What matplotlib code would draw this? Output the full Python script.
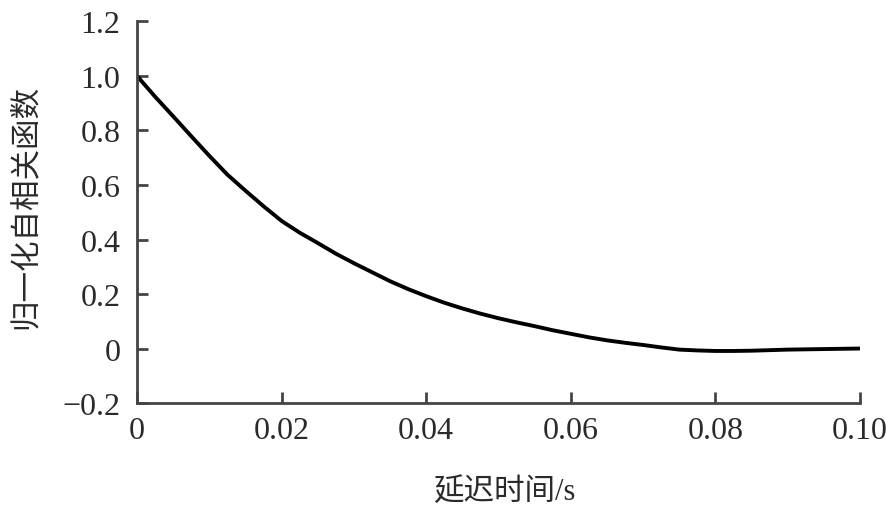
import matplotlib
matplotlib.use("Agg")
import matplotlib.pyplot as plt

# Data
delay = [0.0000, 0.0025, 0.0050, 0.0075, 0.0100, 0.0125, 0.0150, 0.0175, 0.0200, 0.0225,
         0.0250, 0.0275, 0.0300, 0.0325, 0.0350, 0.0375, 0.0400, 0.0425, 0.0450, 0.0475,
         0.0500, 0.0525, 0.0550, 0.0575, 0.0600, 0.0625, 0.0650, 0.0675, 0.0700, 0.0725,
         0.0750, 0.0775, 0.0800, 0.0825, 0.0850, 0.0875, 0.0900, 0.0925, 0.0950, 0.0975,
         0.1000]
acf = [1.000, 0.924, 0.852, 0.779, 0.707, 0.638, 0.579, 0.522, 0.468, 0.425,
       0.387, 0.348, 0.313, 0.280, 0.247, 0.218, 0.192, 0.168, 0.147, 0.128,
       0.111, 0.096, 0.082, 0.067, 0.054, 0.041, 0.030, 0.021, 0.013, 0.004,
       -0.004, -0.007, -0.009, -0.009, -0.008, -0.006, -0.004, -0.003, -0.002, -0.001,
       0.000]

xticks = [0, 0.02, 0.04, 0.06, 0.08, 0.10]
xticklabels = ["0", "0.02", "0.04", "0.06", "0.08", "0.10"]
yticks = [-0.2, 0, 0.2, 0.4, 0.6, 0.8, 1.0, 1.2]
yticklabels = ["\u22120.2", "0", "0.2", "0.4", "0.6", "0.8", "1.0", "1.2"]
xlabel = "延迟时间/s"
ylabel = "归一化自相关函数"

serif = ["Liberation Serif", "DejaVu Serif"]
mixed = ["Liberation Serif", "Noto Sans CJK SC", "DejaVu Sans"]

fig = plt.figure(figsize=(8.87, 5.10), dpi=100)
ax = fig.add_axes([0.1545, 0.2078, 0.8151, 0.7481])

ax.plot(delay, acf, color="black", lw=2.8, solid_joinstyle="round", solid_capstyle="round")

ax.set_xlim(0, 0.10)
ax.set_ylim(-0.2, 1.2)
ax.set_xticks(xticks)
ax.set_xticklabels(xticklabels, family=serif, fontsize=23, color="#2a2a2a")
ax.set_yticks(yticks)
ax.set_yticklabels(yticklabels, family=serif, fontsize=23, color="#2a2a2a")

for s in ["top", "right"]:
    ax.spines[s].set_visible(False)
for s in ["left", "bottom"]:
    ax.spines[s].set_color("#444444")
    ax.spines[s].set_linewidth(2.0)

ax.tick_params(axis="both", direction="in", length=8, width=2.0, color="#444444")
ax.tick_params(axis="y", pad=12)
ax.tick_params(axis="x", pad=9)

fig.text(0.569, 0.035, xlabel, ha="center", va="center", fontsize=22,
         family=mixed, color="#2a2a2a", fontweight="light")
fig.text(0.030, 0.594, ylabel, ha="center", va="center", rotation=90, fontsize=22,
         family=mixed, color="#2a2a2a", fontweight="light")

fig.savefig("out.png", dpi=100)
